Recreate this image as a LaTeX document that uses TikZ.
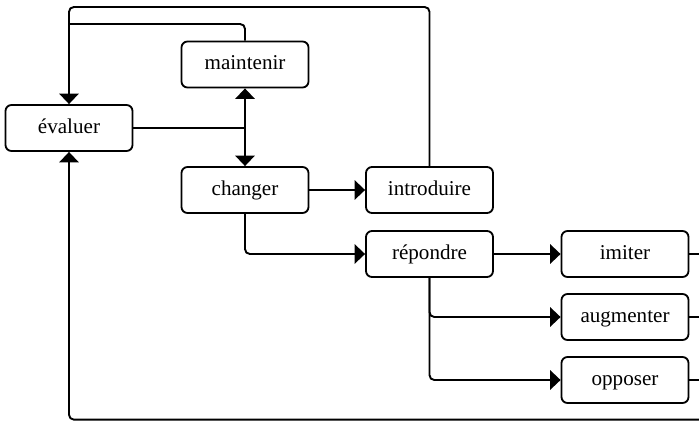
\documentclass[tikz,border=0pt]{standalone}
\usepackage{fontspec}
\setmainfont{Liberation Serif}
\usetikzlibrary{arrows.meta}

\begin{document}
\begin{tikzpicture}[
  box/.style={draw, line width=1.3pt, rounded corners=0.15cm, minimum width=3.175cm,
    minimum height=1.15cm, inner sep=0pt, text height=2ex, text depth=0.3ex,
    font=\fontsize{15}{18}\selectfont},
  link/.style={line width=1.35pt, rounded corners=0.12cm},
  flow/.style={link, -{Triangle[length=0.26cm, width=0.48cm]}}
]
\useasboundingbox (0cm,0cm) rectangle (17.475cm,-10.5cm);
\node[box] (evaluer) at (1.725cm,-3.2cm) {évaluer};
\node[box] (maintenir) at (6.125cm,-1.6125cm) {maintenir};
\node[box] (changer) at (6.125cm,-4.75cm) {changer};
\node[box] (introduire) at (10.7375cm,-4.75cm) {introduire};
\node[box] (repondre) at (10.7375cm,-6.35cm) {répondre};
\node[box] (imiter) at (15.625cm,-6.35cm) {imiter};
\node[box] (augmenter) at (15.625cm,-7.925cm) {augmenter};
\node[box] (opposer) at (15.625cm,-9.5cm) {opposer};
\coordinate (edge) at (17.6cm,0cm);
\coordinate (bottom) at (17.6cm,-10.49cm);
% loops back to evaluer
\draw[flow] (introduire.north) |- (evaluer.north |- 0cm,-0.175cm) -- (evaluer.north);
\draw[link] (maintenir.north) |- (evaluer.north |- 0cm,-0.6cm);
\draw[flow] (bottom) -| (evaluer.south);
% evaluer to maintenir or changer
\draw[link] (evaluer.east) -- (evaluer.east -| maintenir.south) coordinate (junc);
\draw[flow] (junc) -- (maintenir.south);
\draw[flow] (junc) -- (changer.north);
\draw[flow] (changer.east) -- (introduire.west);
\draw[flow] (changer.south) |- (repondre.west);
\draw[flow] (repondre.east) -- (imiter.west);
\draw[flow] (repondre.south) |- (augmenter.west);
\draw[flow] (repondre.south) |- (opposer.west);
\draw[link] (imiter.east) -- (imiter.east -| edge);
\draw[link] (augmenter.east) -- (augmenter.east -| edge);
\draw[link] (opposer.east) -- (opposer.east -| edge);
\end{tikzpicture}
\end{document}
